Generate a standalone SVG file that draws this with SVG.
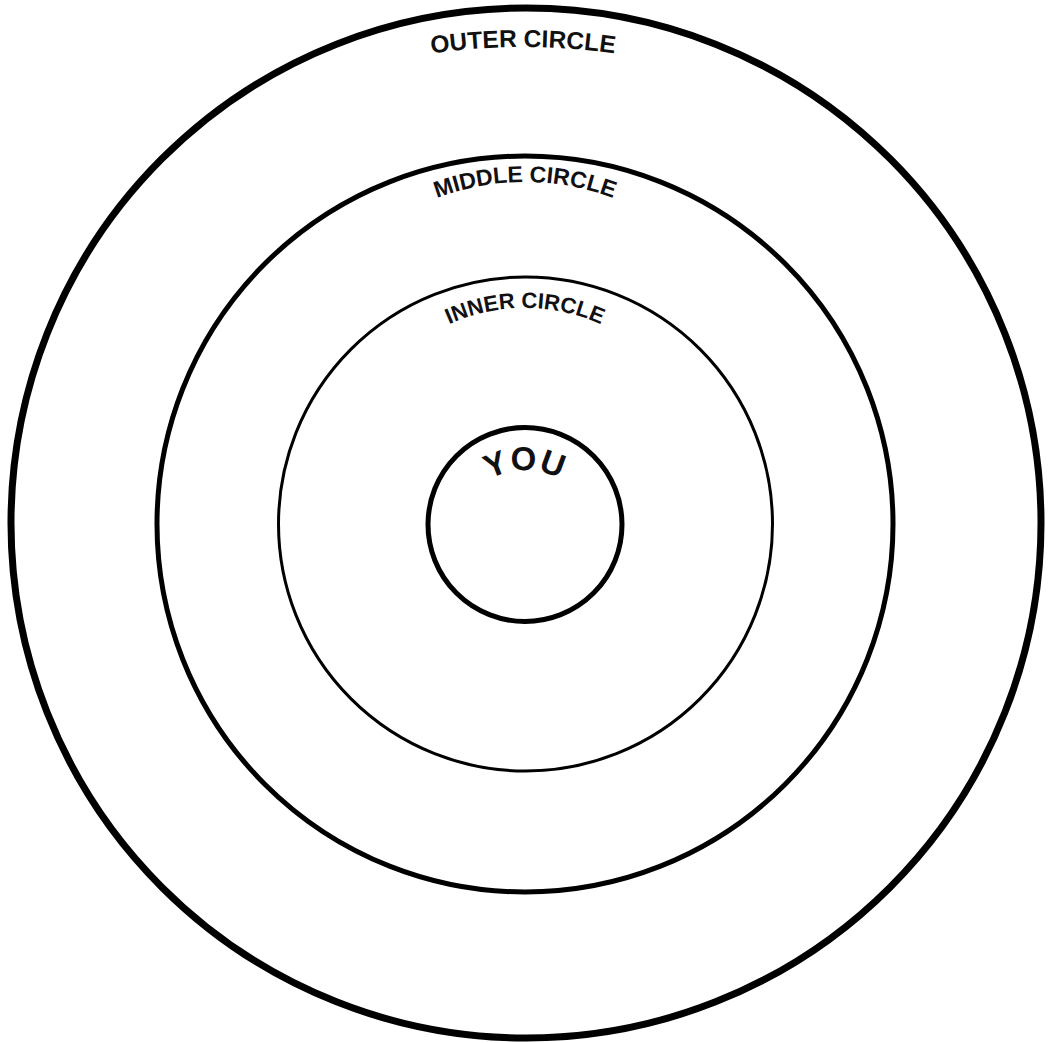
<svg xmlns="http://www.w3.org/2000/svg" width="1052" height="1043" viewBox="0 0 1052 1043">
<style>
.ring{fill:none;stroke:#000;}
.lbl{font-family:"Liberation Sans","DejaVu Sans",sans-serif;font-weight:bold;fill:#111;}
</style>
<defs>
<path id="arcOuter" d="M -127 697 A 650 650 0 0 1 1173 697"/>
<path id="arcMiddle" d="M 275 432 A 250 250 0 0 1 775 432"/>
<path id="arcInner" d="M 340 493 A 185 185 0 0 1 710 493"/>
<path id="arcYou" d="M 455 540 A 70 70 0 0 1 595 540"/>
</defs>
<rect width="1052" height="1043" fill="#fff"/>
<g id="outer">
<circle class="ring" cx="526" cy="523" r="515" stroke-width="7"/>
<text class="lbl" font-size="24.5"><textPath href="#arcOuter" startOffset="50%" text-anchor="middle">OUTER CIRCLE</textPath></text>
</g>
<g id="middle">
<circle class="ring" cx="525" cy="524" r="368" stroke-width="5"/>
<text class="lbl" font-size="23"><textPath href="#arcMiddle" startOffset="50%" text-anchor="middle">MIDDLE CIRCLE</textPath></text>
</g>
<g id="inner">
<circle class="ring" cx="525.5" cy="524" r="247" stroke-width="3"/>
<text class="lbl" font-size="22"><textPath href="#arcInner" startOffset="50%" text-anchor="middle">INNER CIRCLE</textPath></text>
</g>
<g id="you">
<circle class="ring" cx="525" cy="524.5" r="97" stroke-width="5"/>
<text class="lbl" font-size="33" font-weight="normal" letter-spacing="1"><textPath href="#arcYou" startOffset="50%" text-anchor="middle">YOU</textPath></text>
</g>
<g id="connectors"/>
</svg>
